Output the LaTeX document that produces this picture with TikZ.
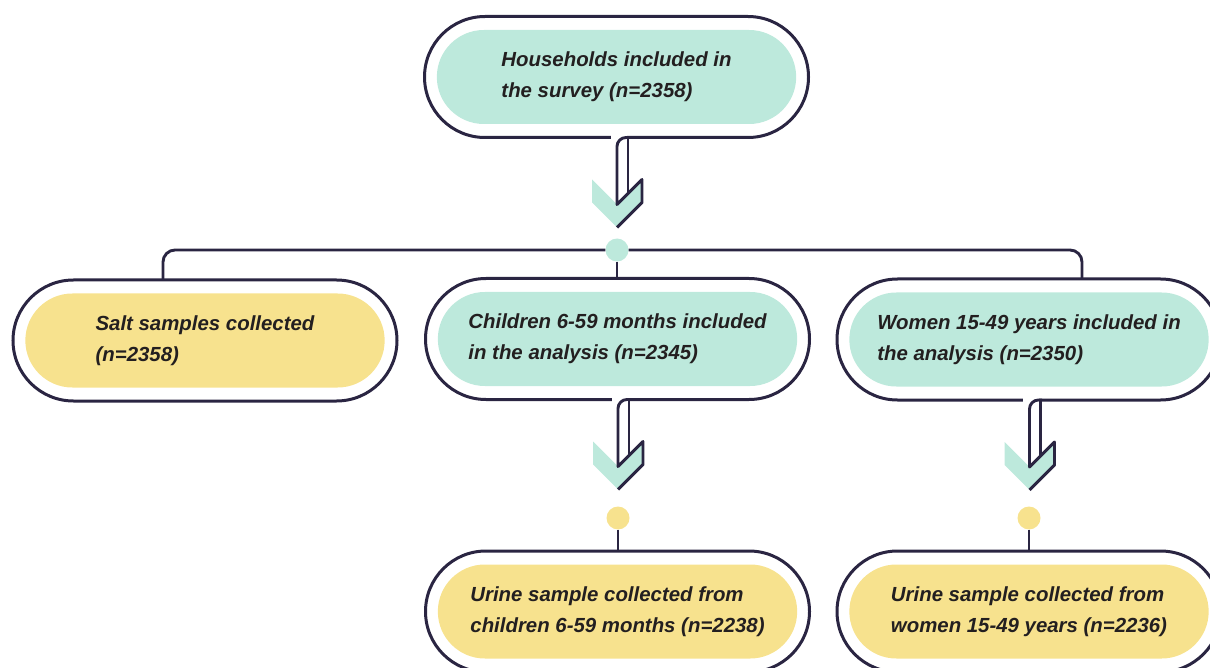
\documentclass[tikz,border=0pt]{standalone}
\usepackage{fontspec}
\setmainfont{Liberation Sans}
\usetikzlibrary{shapes.misc}
\definecolor{ink}{HTML}{2A2542}
\definecolor{mint}{HTML}{BDE9DC}
\definecolor{sand}{HTML}{F7E28E}
\definecolor{txt}{HTML}{231F20}

% hollow shaft with chevron leaving the bottom of a shell
\newcommand{\dropchev}[1]{%
  \begin{scope}[shift={(#1.south)}]
    \fill[white] (-6,-3) rectangle (10,3);
    \fill[mint] (-24.5,42) -- (0.5,67) -- (25.5,42) -- (25.5,65) -- (0.5,90) -- (-24.5,65) -- cycle;
    \draw[link, line join=round] (13,0) [rounded corners=9pt] -| (0.5,30) [sharp corners] -- (0.5,67) -- (25.5,42) -- (25.5,65) -- (0.5,90);
    \draw[link] (11.5,0) -- (11.5,56);
  \end{scope}}

\begin{document}
\begin{tikzpicture}[x=1pt, y=-1pt,
  link/.style={draw=ink, line width=2.9pt},
  shell/.style={rounded rectangle, draw=ink, line width=3pt, minimum width=384pt, minimum height=121pt, inner sep=0pt, outer sep=0pt},
  core/.style={rounded rectangle, fill=#1, minimum width=366pt, minimum height=94pt, align=left, text=txt, font=\fontsize{20.4}{31}\selectfont\bfseries\itshape},
  dot/.style={circle, fill=#1, minimum size=23pt, inner sep=0pt}]
	\useasboundingbox (0,0) rectangle (1210,668);
	\clip (0,0) rectangle (1210,668);
	% outlines
	\node[shell] (house) at (616.5,77) {};
	\node[shell] (salt) at (205,340.5) {};
	\node[shell] (child) at (617.5,339) {};
	\node[shell] (women) at (1029,339.5) {};
	\node[shell] (childurine) at (617.5,611.5) {};
	\node[shell] (womenurine) at (1029,611.5) {};
	% filled pills
	\node[core=mint] (house-t) at (house.center) {Households included in\\the survey (n=2358)};
	\node[core=sand] (salt-t) at (salt.center) {Salt samples collected\\(n=2358)};
	\node[core=mint] (child-t) at (child.center) {Children 6-59 months included\\in the analysis (n=2345)};
	\node[core=mint] (women-t) at (women.center) {Women 15-49 years included in\\the analysis (n=2350)};
	\node[core=sand] (childurine-t) at (childurine.center) {Urine sample collected from\\children 6-59 months (n=2238)};
	\node[core=sand] (womenurine-t) at (womenurine.center) {Urine sample collected from\\women 15-49 years (n=2236)};
	% branching
	\node[dot=mint] (hub) at (617,250) {};
	\draw[link, rounded corners=12pt] (hub) -| ([xshift=-42pt]salt.north);
	\draw[link, rounded corners=12pt] (hub) -| ([xshift=53pt]women.north);
	\draw[link] (hub) -- (hub |- child.north);
	\dropchev{house}
	\dropchev{child}
	\dropchev{women}
	\node[dot=sand] (childmark) at (618,518) {};
	\node[dot=sand] (womenmark) at (1029,518) {};
	\draw[link] (childmark) -- (childmark |- childurine.north);
	\draw[link] (womenmark) -- (womenmark |- womenurine.north);
\end{tikzpicture}
\end{document}
